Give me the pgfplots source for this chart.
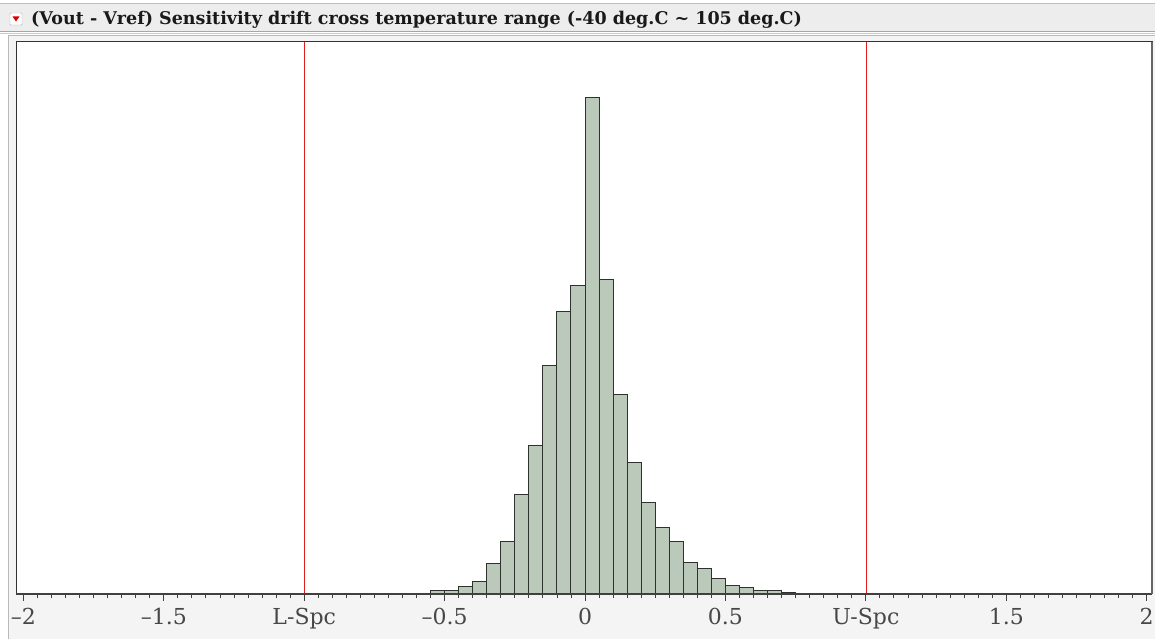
\documentclass[border=0pt]{standalone}
\usepackage{fontspec}
\setmainfont{Liberation Serif}
\newfontfamily\titlefont{DejaVu Serif}
\newfontfamily\tickfont{DejaVu Serif}
\usepackage{pgfplots}
\pgfplotsset{compat=1.18}

\definecolor{barfill}{RGB}{186,201,185}
\definecolor{baredge}{RGB}{45,50,45}
\definecolor{speccol}{RGB}{225,30,30}
\definecolor{panelbg}{RGB}{244,244,244}
\definecolor{titlebg}{RGB}{237,237,237}

% histogram: left bin edge, count (last row closes the final bin)
\pgfplotstableread{
x    y
-0.55 3
-0.50 3
-0.45 7
-0.40 12
-0.35 30
-0.30 52
-0.25 99
-0.20 148
-0.15 228
-0.10 282
-0.05 308
0.00 496
0.05 314
0.10 199
0.15 131
0.20 91
0.25 66
0.30 52
0.35 31
0.40 25
0.45 15
0.50 8
0.55 6
0.60 3
0.65 3
0.70 1.5
0.75 0
}\histdata

\begin{document}
\begin{tikzpicture}
% window chrome (1pt = 1px)
\begin{scope}[x=1pt,y=1pt]
\fill[white] (0,0) rectangle (1155,639);
\fill[panelbg] (8,0) rectangle (1155,604);
\draw[gray!55] (8,0) -- (8,604) -- (1155,604);
\fill[titlebg] (0,608) rectangle (1155,636);
\draw[gray!50] (0,636) -- (1155,636);
\draw[gray!70] (0,608) -- (1155,608);
\draw[gray!40] (0,606) -- (1155,606);
\draw[gray!60, fill=white, rounded corners=1] (10,614) rectangle (22,626);
\fill[red!85!black] (12.5,622.5) -- (19.5,622.5) -- (16,617.5) -- cycle;
\node[anchor=base west, inner sep=0, text=black!90,
      font=\titlefont\bfseries\fontsize{17.5}{18}\selectfont] at (31,614)
  {(Vout - Vref) Sensitivity drift cross temperature range (-40 deg.C \textasciitilde{} 105 deg.C)};
\end{scope}

\begin{axis}[
  at={(16pt,45pt)}, anchor=south west,
  scale only axis, width=1136pt, height=552pt,
  xmin=-2.0264, xmax=2.0192, ymin=0, ymax=552,
  axis background/.style={fill=white},
  xtick={-2,-1.5,-1,-0.5,0,0.5,1,1.5,2},
  xticklabels={–2,–1.5,L-Spc,–0.5,0,0.5,U-Spc,1.5,2},
  minor x tick num=9,
  ytick=\empty,
  xtick pos=bottom,
  tick align=outside,
  major tick length=7pt, minor tick length=4pt,
  every tick/.style={black!75, line width=0.9pt},
  axis line style={black!80, line width=1pt},
  xticklabel style={font=\tickfont\fontsize{22}{22}\selectfont, text=black!72, yshift=-4pt},
  clip=false,
]
\addplot[ybar interval, fill=barfill, draw=baredge, line width=1pt] table[x=x, y=y] {\histdata};
% heavier bottom axis line and right edge
\addplot[draw=black!75, line width=2pt, mark=none] coordinates {(-2.0264,0) (2.0192,0)};
\addplot[draw=black!60, line width=2pt, mark=none] coordinates {(2.0192,0) (2.0192,552)};
% spec limits
\addplot[draw=speccol, line width=1.2pt, mark=none] coordinates {(-1,0.5) (-1,551.5)};
\addplot[draw=speccol, line width=1.2pt, mark=none] coordinates {(1.002,0.5) (1.002,551.5)};
\end{axis}

\pgfresetboundingbox
\path (0,0) rectangle (1155pt,639pt);
\end{tikzpicture}
\end{document}
